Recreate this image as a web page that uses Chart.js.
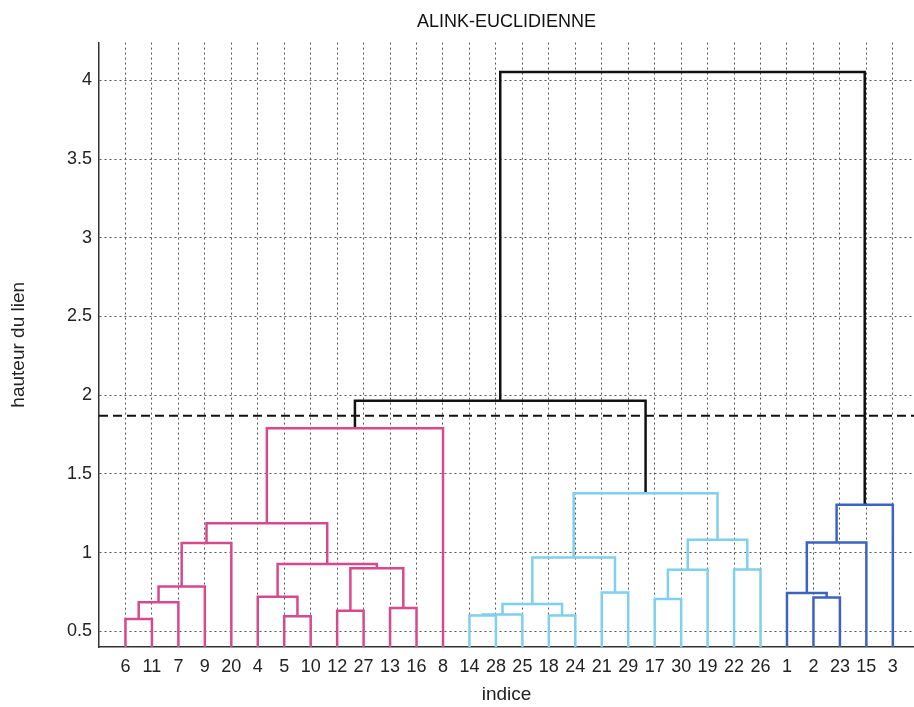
<!DOCTYPE html>
<html>
<head>
<meta charset="utf-8">
<script src="https://cdn.jsdelivr.net/npm/chart.js@4.4.1/dist/chart.umd.min.js"></script>
<style>
  html,body{margin:0;padding:0;background:#fff;}
  #wrap{width:914px;height:707px;}
</style>
</head>
<body>
<div id="wrap"><canvas id="c" width="914" height="707"></canvas></div>
<script>
// leaves in the order they are drawn (observation numbers)
const leafOrder=[6,11,7,9,20,4,5,10,12,27,13,16,8,14,28,25,18,24,21,29,17,30,19,22,26,1,2,23,15,3];
const N=30;
// linkage: row k merges linkA[k] and linkB[k] at height linkH[k], creating node N+1+k
const linkA=[6, 5, 14,18,33,12,13,35,31,17, 2, 4, 1,21,39,40,22,36,42,38,45,43,46,51,52,50,54,57,58];
const linkB=[11,10,28,24,25,27,16,34, 7,30,23,32,41,29, 9,19,26,37,48,44,20,15,47,49, 3,53, 8,56,55];
const linkH=[0.578,0.595,0.600,0.600,0.606,0.630,0.648,0.673,0.684,0.705,0.715,0.720,0.743,0.747,0.785,
             0.891,0.893,0.900,0.927,0.969,1.060,1.064,1.081,1.187,1.303,1.377,1.790,1.965,4.053];
const cutoff=1.87;
const clusterColors=['#d8488d','#7fcfee','#3d63c0'];
const linkColor='#111';
const yTicks=[0.5,1,1.5,2,2.5,3,3.5,4];

const FONT='"Liberation Sans", Arial, Helvetica, sans-serif';

function buildLinks(){
  const pos={}, hgt={}, parentOf={}, nodeColor={};
  leafOrder.forEach((leaf,i)=>{ pos[leaf]=i+1; hgt[leaf]=0; });
  linkA.forEach((a,k)=>{
    const id=N+1+k, b=linkB[k];
    pos[id]=(pos[a]+pos[b])/2; hgt[id]=linkH[k];
    parentOf[a]=id; parentOf[b]=id;
  });
  // clusters = highest subtrees under the cutoff
  const roots=[];
  linkA.forEach((a,k)=>{ const id=N+1+k; if(hgt[id]<cutoff && parentOf[id] && hgt[parentOf[id]]>=cutoff) roots.push(id); });
  roots.sort((p,q)=>pos[p]-pos[q]).forEach((r,i)=>{ nodeColor[r]=clusterColors[i%clusterColors.length]; });
  for(let k=linkA.length-1;k>=0;k--){
    const id=N+1+k;
    if(nodeColor[id]){ nodeColor[linkA[k]]=nodeColor[id]; nodeColor[linkB[k]]=nodeColor[id]; }
  }
  return linkA.map((a,k)=>{
    const id=N+1+k, b=linkB[k], h=linkH[k];
    return {
      data:[{x:pos[a],y:hgt[a]},{x:pos[a],y:h},{x:pos[b],y:h},{x:pos[b],y:hgt[b]}],
      borderColor:nodeColor[id]||linkColor,
      borderWidth:2.5, showLine:true, pointRadius:0, tension:0
    };
  });
}

const xMax=30.8;
const datasets=buildLinks();
datasets.push({
  data:[{x:0,y:cutoff},{x:xMax,y:cutoff}],
  borderColor:'#111', borderWidth:2, borderDash:[9,5], showLine:true, pointRadius:0
});

new Chart(document.getElementById('c'),{
  type:'scatter',
  data:{datasets},
  options:{
    responsive:false, animation:false,
    layout:{padding:{left:0,right:0,top:0,bottom:1}},
    plugins:{
      legend:{display:false}, tooltip:{enabled:false},
      title:{display:true,text:'ALINK-EUCLIDIENNE',fullSize:false,color:'#111',
        font:{family:FONT,size:18,weight:'normal'},padding:{top:11,bottom:10}}
    },
    scales:{
      x:{
        type:'linear', min:0, max:xMax,
        afterBuildTicks:(s)=>{ s.ticks=leafOrder.map((_,i)=>({value:i+1})); },
        afterFit:(s)=>{ s.height=59; },
        ticks:{autoSkip:false,maxRotation:0,padding:9,color:'#222',font:{family:FONT,size:18},
          callback:(v)=>String(leafOrder[v-1])},
        grid:{color:'#555',lineWidth:1,drawTicks:false},
        border:{display:true,color:'#333',width:1.5,dash:[2,3]},
        title:{display:true,text:'indice',color:'#222',font:{family:FONT,size:19},padding:{top:3,bottom:0}}
      },
      y:{
        min:0.4, max:4.24,
        afterBuildTicks:(s)=>{ s.ticks=yTicks.map(v=>({value:v})); },
        afterFit:(s)=>{ s.width=99; },
        ticks:{padding:7,color:'#222',font:{family:FONT,size:18},callback:(v)=>String(v)},
        grid:{color:'#555',lineWidth:1,drawTicks:false},
        border:{display:true,color:'#333',width:1.5,dash:[2,3]},
        title:{display:true,text:'hauteur du lien',color:'#222',font:{family:FONT,size:19},padding:{top:7,bottom:0}}
      }
    }
  }
});
</script>
</body>
</html>
